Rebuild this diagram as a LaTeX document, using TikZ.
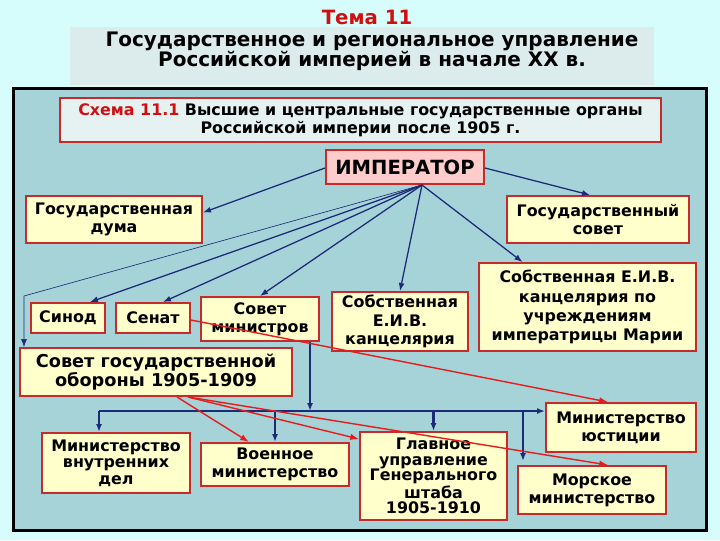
\documentclass[tikz,border=0pt]{standalone}
\usepackage{fontspec}
\setmainfont{DejaVu Sans}
\usetikzlibrary{arrows.meta,positioning,calc}

\definecolor{skybg}{HTML}{D6FCFC}
\definecolor{framefill}{HTML}{A6D3D7}
\definecolor{titlefill}{HTML}{DCECEC}
\definecolor{schemefill}{HTML}{E6F2F2}
\definecolor{boxyellow}{HTML}{FFFFCC}
\definecolor{boxred}{HTML}{C62A2A}
\definecolor{imppink}{HTML}{FFCCCC}
\definecolor{navyline}{HTML}{1C2A7A}
\definecolor{redline}{HTML}{E81C1C}
\definecolor{temared}{HTML}{D01010}

\begin{document}
\begin{tikzpicture}[x=0.025cm, y=-0.025cm,
  font=\bfseries,
  orgbox/.style={draw=boxred, line width=1.4pt, fill=boxyellow, inner sep=0pt,
                 align=center, font=\fontsize{11.3}{13}\selectfont\bfseries},
  impbox/.style={draw=boxred, line width=1.4pt, fill=imppink, inner sep=0pt,
                 font=\fontsize{13.9}{15}\selectfont\bfseries},
  arrow/.style={-{Latex[length=2.0mm,width=1.5mm]}, draw=navyline, line width=0.9pt},
  thinarrow/.style={-{Latex[length=2.0mm,width=1.5mm]}, draw=navyline, line width=0.45pt},
  busarrow/.style={-{Latex[length=2.0mm,width=1.5mm]}, draw=navyline, line width=1.5pt},
  redarrow/.style={-{Latex[length=2.2mm,width=1.6mm]}, draw=redline, line width=1.0pt}
]

% Background
\fill[skybg] (0,0) rectangle (720,540);
\useasboundingbox (0,0) rectangle (720,540);

% Title
\node[fill=titlefill, minimum width=14.6cm, minimum height=1.45cm, inner sep=0pt] (titlebg) at (362,56) {};
\node[text=temared, font=\fontsize{14}{15}\selectfont\bfseries] (tema) at (367,17) {Тема 11};
\node[align=center, font=\fontsize{14.2}{14.2}\selectfont\bfseries] (title) at (372,51)
{Государственное и региональное управление\\Российской империей в начале ХХ в.};

% Frame
\node[draw=black, line width=2.2pt, fill=framefill, minimum width=17.3cm, minimum height=11.025cm,
      inner sep=0pt] (frame) at (360,309.5) {};

% Scheme caption
\node[draw=boxred, line width=1.4pt, fill=schemefill, minimum width=15.025cm, minimum height=1.1cm,
      inner sep=0pt, align=center, font=\fontsize{11.3}{12.8}\selectfont\bfseries] (scheme) at (360.5,120)
{\textcolor{temared}{Схема 11.1} Высшие и центральные государственные органы\\Российской империи после 1905 г.};

% Upper level
\node[impbox, minimum width=3.95cm, minimum height=0.85cm] (imp) at (405,167) {ИМПЕРАТОР};
\node[orgbox, minimum width=4.4cm, minimum height=1.175cm] (duma) at (114,219.5) {Государственная\\дума};
\node[orgbox, minimum width=4.55cm, minimum height=1.175cm] (gossovet) at (598,219.5) {Государственный\\совет};

% Middle level
\node[orgbox, minimum width=1.85cm, minimum height=0.75cm] (sinod) at (68,318) {Синод};
\node[orgbox, minimum width=1.85cm, minimum height=0.75cm] (senat) at (153,318) {Сенат};
\node[orgbox, minimum width=2.95cm, minimum height=1.1cm] (sovmin) at (260,319) {Совет\\министров};
\node[orgbox, minimum width=3.4cm, minimum height=1.475cm] (kanc) at (400,321.5) {Собственная\\Е.И.В.\\канцелярия};
\node[orgbox, minimum width=5.425cm, minimum height=2.2cm, font=\fontsize{11.3}{13.6}\selectfont\bfseries] (kancmaria) at (587.5,307)
{Собственная Е.И.В.\\канцелярия по\\учреждениям\\императрицы Марии};
\node[orgbox, minimum width=6.8cm, minimum height=1.2cm, font=\fontsize{12.6}{14}\selectfont\bfseries] (oborona) at (156,372)
{Совет государственной\\обороны 1905-1909};

% Ministries
\node[orgbox, minimum width=3.7cm, minimum height=1.5cm, font=\fontsize{11.3}{11.8}\selectfont\bfseries] (mvd) at (116,463) {Министерство\\внутренних\\дел};
\node[orgbox, minimum width=3.7cm, minimum height=1.075cm] (voen) at (275,464.5) {Военное\\министерство};
\node[orgbox, minimum width=3.675cm, minimum height=2.2cm, font=\fontsize{11.3}{11.2}\selectfont\bfseries] (genshtab) at (433.5,476)
{Главное\\управление\\Генерального\\штаба\\1905-1910};
\node[orgbox, minimum width=3.75cm, minimum height=1.225cm] (minjust) at (621,427.5) {Министерство\\юстиции};
\node[orgbox, minimum width=3.7cm, minimum height=1.2cm] (morsk) at (592,490) {Морское\\министерство};

% Emperor links
\coordinate (hub) at ($(imp.south)+(17,0)$);
\draw[arrow] ($(imp.west)+(0,1)$) -- ($(duma.east)+(0,-7)$);
\draw[arrow] ($(imp.east)+(0,1)$) -- ($(gossovet.north)+(-8,0)$);
\draw[arrow] (hub) -- ($(sinod.north)+(22,0)$);
\draw[arrow] (hub) -- ($(senat.north)+(10,0)$);
\draw[arrow] (hub) -- (sovmin.north);
\draw[arrow] (hub) -- (kanc.north);
\draw[arrow] (hub) -- ($(kancmaria.north)+(-65,0)$);
\draw[thinarrow] (hub) -- ($(oborona.north west)+(5,-51)$) -- ($(oborona.north west)+(5,0)$);

% Council of ministers bus
\coordinate (busL) at ($(mvd.north)+(-17,-21)$);
\coordinate (sovminout) at ($(sovmin.south east)+(-10,0)$);
\coordinate (morskdrop) at ($(morsk.north)+(-69,-4)$);
\draw[busarrow] (sovminout) -- (sovminout |- busL);
\draw[busarrow] (busL) -- (minjust.west |- busL);
\draw[busarrow] (busL) -- ($(mvd.north)+(-17,0)$);
\draw[busarrow] (voen.north |- busL) -- (voen.north);
\draw[busarrow] (genshtab.north |- busL) -- (genshtab.north);
\draw[busarrow] (morskdrop |- busL) -- (morskdrop);

% Red links
\draw[redarrow] ($(senat.east)+(0,2)$) -- ($(minjust.north)+(-13,0)$);
\draw[redarrow] ($(oborona.south)+(21,0)$) -- ($(voen.north west)+(49,0)$);
\draw[redarrow] ($(oborona.south)+(32,0)$) -- ($(genshtab.north west)+(0,8)$);
\draw[redarrow] ($(oborona.south)+(32,0)$) -- ($(morsk.north)+(16,0)$);

\end{tikzpicture}
\end{document}
